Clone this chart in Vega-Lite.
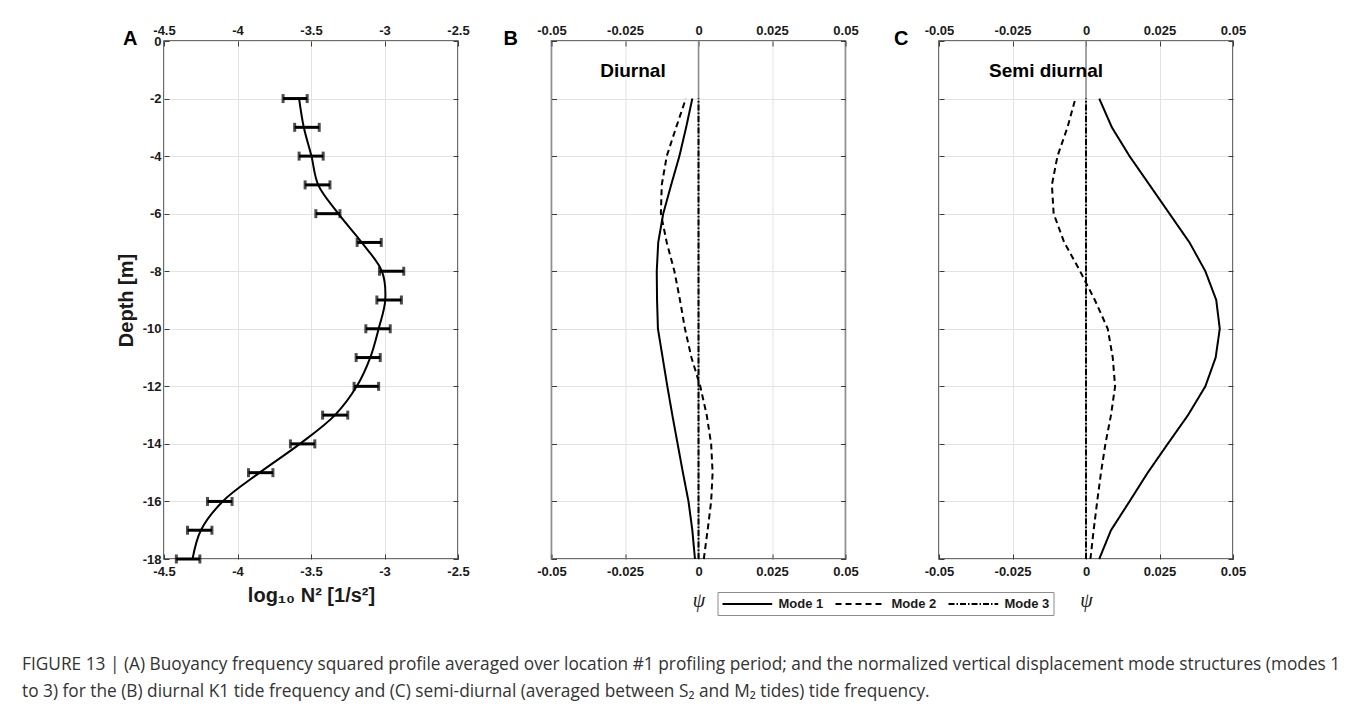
{
  "$schema": "https://vega.github.io/schema/vega-lite/v6.json",
  "background": "white",
  "padding": {"left": 22, "top": 23, "right": 5, "bottom": 5},
  "bounds": "flush",
  "spacing": 93.5,
  "title": {
    "text": [
      "FIGURE 13 | (A) Buoyancy frequency squared profile averaged over location #1 profiling period; and the normalized vertical displacement mode structures (modes 1",
      "to 3) for the (B) diurnal K1 tide frequency and (C) semi-diurnal (averaged between S₂ and M₂ tides) tide frequency."
    ],
    "orient": "bottom",
    "anchor": "start",
    "frame": "group",
    "dx": -142,
    "offset": 40,
    "font": "Open Sans",
    "fontSize": 17.3,
    "fontWeight": "normal",
    "color": "#333333",
    "lineHeight": 27
  },
  "datasets": {
    "n2": [
      {"depth": -2, "prof": -3.581, "lo": -3.690, "hi": -3.526},
      {"depth": -3, "prof": -3.549, "lo": -3.611, "hi": -3.444},
      {"depth": -4, "prof": -3.497, "lo": -3.581, "hi": -3.417},
      {"depth": -5, "prof": -3.451, "lo": -3.540, "hi": -3.371},
      {"depth": -6, "prof": -3.314, "lo": -3.467, "hi": -3.303},
      {"depth": -7, "prof": -3.155, "lo": -3.186, "hi": -3.022},
      {"depth": -8, "prof": -3.018, "lo": -3.034, "hi": -2.869},
      {"depth": -9, "prof": -2.995, "lo": -3.052, "hi": -2.885},
      {"depth": -10, "prof": -3.040, "lo": -3.127, "hi": -2.961},
      {"depth": -11, "prof": -3.097, "lo": -3.193, "hi": -3.029},
      {"depth": -12, "prof": -3.189, "lo": -3.207, "hi": -3.040},
      {"depth": -13, "prof": -3.337, "lo": -3.421, "hi": -3.250},
      {"depth": -14, "prof": -3.576, "lo": -3.640, "hi": -3.474},
      {"depth": -15, "prof": -3.850, "lo": -3.925, "hi": -3.759},
      {"depth": -16, "prof": -4.101, "lo": -4.204, "hi": -4.037},
      {"depth": -17, "prof": -4.249, "lo": -4.340, "hi": -4.174},
      {"depth": -18, "prof": -4.306, "lo": -4.416, "hi": -4.256}
    ],
    "diurnal": [
      {"mode": "Mode 1", "depth": -2, "psi": -0.0021},
      {"mode": "Mode 1", "depth": -3, "psi": -0.0042},
      {"mode": "Mode 1", "depth": -4, "psi": -0.0065},
      {"mode": "Mode 1", "depth": -5, "psi": -0.0093},
      {"mode": "Mode 1", "depth": -6, "psi": -0.0120},
      {"mode": "Mode 1", "depth": -7, "psi": -0.0137},
      {"mode": "Mode 1", "depth": -8, "psi": -0.0142},
      {"mode": "Mode 1", "depth": -9, "psi": -0.0141},
      {"mode": "Mode 1", "depth": -10, "psi": -0.0138},
      {"mode": "Mode 1", "depth": -11, "psi": -0.0122},
      {"mode": "Mode 1", "depth": -12, "psi": -0.0106},
      {"mode": "Mode 1", "depth": -13, "psi": -0.0089},
      {"mode": "Mode 1", "depth": -14, "psi": -0.0071},
      {"mode": "Mode 1", "depth": -15, "psi": -0.0053},
      {"mode": "Mode 1", "depth": -16, "psi": -0.0034},
      {"mode": "Mode 1", "depth": -17, "psi": -0.0021},
      {"mode": "Mode 1", "depth": -18, "psi": -0.0012},
      {"mode": "Mode 2", "depth": -2, "psi": -0.0043},
      {"mode": "Mode 2", "depth": -3, "psi": -0.0076},
      {"mode": "Mode 2", "depth": -4, "psi": -0.0108},
      {"mode": "Mode 2", "depth": -5, "psi": -0.0125},
      {"mode": "Mode 2", "depth": -6, "psi": -0.0128},
      {"mode": "Mode 2", "depth": -7, "psi": -0.0108},
      {"mode": "Mode 2", "depth": -8, "psi": -0.0082},
      {"mode": "Mode 2", "depth": -9, "psi": -0.0063},
      {"mode": "Mode 2", "depth": -10, "psi": -0.0046},
      {"mode": "Mode 2", "depth": -11, "psi": -0.0024},
      {"mode": "Mode 2", "depth": -12, "psi": 0.0006},
      {"mode": "Mode 2", "depth": -13, "psi": 0.0028},
      {"mode": "Mode 2", "depth": -14, "psi": 0.0043},
      {"mode": "Mode 2", "depth": -15, "psi": 0.0048},
      {"mode": "Mode 2", "depth": -16, "psi": 0.0043},
      {"mode": "Mode 2", "depth": -17, "psi": 0.0031},
      {"mode": "Mode 2", "depth": -18, "psi": 0.0018},
      {"mode": "Mode 3", "depth": -2, "psi": 0},
      {"mode": "Mode 3", "depth": -6, "psi": 0},
      {"mode": "Mode 3", "depth": -10, "psi": 0},
      {"mode": "Mode 3", "depth": -14, "psi": 0},
      {"mode": "Mode 3", "depth": -18, "psi": 0}
    ],
    "semi": [
      {"mode": "Mode 1", "depth": -2, "psi": 0.0045},
      {"mode": "Mode 1", "depth": -3, "psi": 0.0088},
      {"mode": "Mode 1", "depth": -4, "psi": 0.0148},
      {"mode": "Mode 1", "depth": -5, "psi": 0.0216},
      {"mode": "Mode 1", "depth": -6, "psi": 0.0284},
      {"mode": "Mode 1", "depth": -7, "psi": 0.0352},
      {"mode": "Mode 1", "depth": -8, "psi": 0.0406},
      {"mode": "Mode 1", "depth": -9, "psi": 0.0443},
      {"mode": "Mode 1", "depth": -10, "psi": 0.0455},
      {"mode": "Mode 1", "depth": -11, "psi": 0.0441},
      {"mode": "Mode 1", "depth": -12, "psi": 0.0406},
      {"mode": "Mode 1", "depth": -13, "psi": 0.0347},
      {"mode": "Mode 1", "depth": -14, "psi": 0.0278},
      {"mode": "Mode 1", "depth": -15, "psi": 0.0210},
      {"mode": "Mode 1", "depth": -16, "psi": 0.0148},
      {"mode": "Mode 1", "depth": -17, "psi": 0.0085},
      {"mode": "Mode 1", "depth": -18, "psi": 0.0045},
      {"mode": "Mode 2", "depth": -2, "psi": -0.0036},
      {"mode": "Mode 2", "depth": -3, "psi": -0.0063},
      {"mode": "Mode 2", "depth": -4, "psi": -0.0097},
      {"mode": "Mode 2", "depth": -5, "psi": -0.0116},
      {"mode": "Mode 2", "depth": -6, "psi": -0.0110},
      {"mode": "Mode 2", "depth": -7, "psi": -0.0074},
      {"mode": "Mode 2", "depth": -8, "psi": -0.0020},
      {"mode": "Mode 2", "depth": -9, "psi": 0.0030},
      {"mode": "Mode 2", "depth": -10, "psi": 0.0074},
      {"mode": "Mode 2", "depth": -11, "psi": 0.0091},
      {"mode": "Mode 2", "depth": -12, "psi": 0.0099},
      {"mode": "Mode 2", "depth": -13, "psi": 0.0085},
      {"mode": "Mode 2", "depth": -14, "psi": 0.0066},
      {"mode": "Mode 2", "depth": -15, "psi": 0.0051},
      {"mode": "Mode 2", "depth": -16, "psi": 0.0038},
      {"mode": "Mode 2", "depth": -17, "psi": 0.0026},
      {"mode": "Mode 2", "depth": -18, "psi": 0.0015},
      {"mode": "Mode 3", "depth": -2, "psi": 0},
      {"mode": "Mode 3", "depth": -6, "psi": 0},
      {"mode": "Mode 3", "depth": -10, "psi": 0},
      {"mode": "Mode 3", "depth": -14, "psi": 0},
      {"mode": "Mode 3", "depth": -18, "psi": 0}
    ],
    "labB": [{"label": "Diurnal", "x": -0.0223, "y": -1.03}],
    "labC": [{"label": "Semi diurnal", "x": -0.0136, "y": -1.03}],
    "zero": [{"v": 0}]
  },
  "resolve": {"scale": {"strokeDash": "independent"}, "legend": {"strokeDash": "independent"}},
  "hconcat": [
    {
      "width": 294,
      "height": 518,
      "title": {"text": "A", "anchor": "start", "frame": "group", "dx": -41, "dy": 25, "offset": 0},
      "data": {"name": "n2"},
      "layer": [
        {
          "mark": {"type": "line", "color": "black", "strokeWidth": 2, "interpolate": "catmull-rom"},
          "encoding": {
            "x": {"field": "prof", "type": "quantitative", "scale": {"domain": [-4.5, -2.5], "nice": false, "zero": false},
                  "axis": {"orient": "bottom", "values": [-4.5, -4, -3.5, -3, -2.5], "labelExpr": "'' + datum.value", "title": "log₁₀ N² [1/s²]", "grid": true, "labelPadding": 11, "titlePadding": 7}},
            "y": {"field": "depth", "type": "quantitative", "scale": {"domain": [-18, 0], "nice": false, "zero": false},
                  "axis": {"orient": "left", "values": [0, -2, -4, -6, -8, -10, -12, -14, -16, -18], "labelExpr": "'' + datum.value", "title": "Depth [m]", "grid": true, "titlePadding": 6}},
            "order": {"field": "depth", "type": "quantitative"}
          }
        },
        {
          "mark": {"type": "rule", "color": "black", "strokeWidth": 3},
          "encoding": {
            "x": {"field": "lo", "type": "quantitative", "scale": {"domain": [-4.5, -2.5], "nice": false, "zero": false},
                  "axis": {"orient": "top", "values": [-4.5, -4, -3.5, -3, -2.5], "labelExpr": "'' + datum.value", "title": null, "grid": false, "labelPadding": 9}},
            "x2": {"field": "hi"},
            "y": {"field": "depth", "type": "quantitative",
                  "axis": {"orient": "right", "values": [0, -2, -4, -6, -8, -10, -12, -14, -16, -18], "labels": false, "title": null, "grid": false}}
          }
        },
        {
          "mark": {"type": "tick", "orient": "vertical", "color": "black", "thickness": 3, "size": 9},
          "encoding": {
            "x": {"field": "lo", "type": "quantitative", "axis": null},
            "y": {"field": "depth", "type": "quantitative", "axis": null}
          }
        },
        {
          "mark": {"type": "tick", "orient": "vertical", "color": "black", "thickness": 3, "size": 9},
          "encoding": {
            "x": {"field": "hi", "type": "quantitative", "axis": null},
            "y": {"field": "depth", "type": "quantitative", "axis": null}
          }
        }
      ],
      "resolve": {"axis": {"x": "independent", "y": "independent"}}
    },
    {
      "width": 294,
      "height": 518,
      "title": {"text": "B", "anchor": "start", "frame": "group", "dx": -48, "dy": 25, "offset": 0},
      "layer": [
        {
          "data": {"name": "zero"},
          "mark": {"type": "rule", "color": "#8a8a8a", "strokeWidth": 1.5},
          "encoding": {
            "x": {"field": "v", "type": "quantitative", "scale": {"domain": [-0.05, 0.05], "nice": false, "zero": false},
                  "axis": {"orient": "top", "values": [-0.05, -0.025, 0, 0.025, 0.05], "labelExpr": "'' + datum.value", "title": null, "grid": false, "labelPadding": 9}}
          }
        },
        {
          "data": {"name": "diurnal"},
          "mark": {"type": "line", "color": "black", "strokeWidth": 2},
          "encoding": {
            "x": {"field": "psi", "type": "quantitative", "scale": {"domain": [-0.05, 0.05], "nice": false, "zero": false},
                  "axis": {"orient": "bottom", "values": [-0.05, -0.025, 0, 0.025, 0.05], "labelExpr": "'' + datum.value", "title": "ψ", "grid": true, "labelPadding": 11,
                           "titleFont": "Liberation Serif", "titleFontStyle": "italic", "titleFontWeight": "normal", "titleFontSize": 20, "titlePadding": 12}},
            "y": {"field": "depth", "type": "quantitative", "scale": {"domain": [-18, 0], "nice": false, "zero": false},
                  "axis": {"orient": "left", "values": [0, -2, -4, -6, -8, -10, -12, -14, -16, -18], "labels": false, "title": null, "grid": true}},
            "strokeDash": {"field": "mode", "type": "nominal",
                           "scale": {"domain": ["Mode 1", "Mode 2", "Mode 3"], "range": [[1, 0], [6, 4], [6, 2, 1.5, 2]]},
                           "legend": {"orient": "none", "legendX": 166, "legendY": 551, "direction": "horizontal", "title": null,
                                      "symbolType": "M-1,0H6.1", "symbolSize": 196, "symbolStrokeWidth": 2, "symbolStrokeColor": "black",
                                      "labelFont": "Liberation Sans", "labelFontSize": 13, "labelFontWeight": "bold", "labelColor": "#1a1a1a",
                                      "labelOffset": 41, "columnPadding": 8, "padding": 4, "strokeColor": "#8c8c8c", "fillColor": "white"}},
            "order": {"field": "depth", "type": "quantitative"}
          }
        },
        {
          "data": {"name": "labB"},
          "mark": {"type": "text", "font": "Liberation Sans", "fontSize": 19, "fontWeight": "bold", "color": "black"},
          "encoding": {
            "x": {"field": "x", "type": "quantitative", "axis": null},
            "y": {"field": "y", "type": "quantitative",
                  "axis": {"orient": "right", "values": [0, -2, -4, -6, -8, -10, -12, -14, -16, -18], "labels": false, "title": null, "grid": false}},
            "text": {"field": "label"}
          }
        }
      ],
      "resolve": {"axis": {"x": "independent", "y": "independent"}}
    },
    {
      "width": 294,
      "height": 518,
      "title": {"text": "C", "anchor": "start", "frame": "group", "dx": -45, "dy": 25, "offset": 0},
      "layer": [
        {
          "data": {"name": "zero"},
          "mark": {"type": "rule", "color": "#8a8a8a", "strokeWidth": 1.5},
          "encoding": {
            "x": {"field": "v", "type": "quantitative", "scale": {"domain": [-0.05, 0.05], "nice": false, "zero": false},
                  "axis": {"orient": "top", "values": [-0.05, -0.025, 0, 0.025, 0.05], "labelExpr": "'' + datum.value", "title": null, "grid": false, "labelPadding": 9}}
          }
        },
        {
          "data": {"name": "semi"},
          "mark": {"type": "line", "color": "black", "strokeWidth": 2},
          "encoding": {
            "x": {"field": "psi", "type": "quantitative", "scale": {"domain": [-0.05, 0.05], "nice": false, "zero": false},
                  "axis": {"orient": "bottom", "values": [-0.05, -0.025, 0, 0.025, 0.05], "labelExpr": "'' + datum.value", "title": "ψ", "grid": true, "labelPadding": 11,
                           "titleFont": "Liberation Serif", "titleFontStyle": "italic", "titleFontWeight": "normal", "titleFontSize": 20, "titlePadding": 12}},
            "y": {"field": "depth", "type": "quantitative", "scale": {"domain": [-18, 0], "nice": false, "zero": false},
                  "axis": {"orient": "left", "values": [0, -2, -4, -6, -8, -10, -12, -14, -16, -18], "labels": false, "title": null, "grid": true}},
            "strokeDash": {"field": "mode", "type": "nominal",
                           "scale": {"domain": ["Mode 1", "Mode 2", "Mode 3"], "range": [[1, 0], [6, 4], [6, 2, 1.5, 2]]},
                           "legend": null},
            "order": {"field": "depth", "type": "quantitative"}
          }
        },
        {
          "data": {"name": "labC"},
          "mark": {"type": "text", "font": "Liberation Sans", "fontSize": 19, "fontWeight": "bold", "color": "black"},
          "encoding": {
            "x": {"field": "x", "type": "quantitative", "axis": null},
            "y": {"field": "y", "type": "quantitative",
                  "axis": {"orient": "right", "values": [0, -2, -4, -6, -8, -10, -12, -14, -16, -18], "labels": false, "title": null, "grid": false}},
            "text": {"field": "label"}
          }
        }
      ],
      "resolve": {"axis": {"x": "independent", "y": "independent"}}
    }
  ],
  "config": {
    "font": "Liberation Sans",
    "view": {"stroke": "#3c3c3c", "strokeWidth": 1.5},
    "axis": {
      "labelFont": "Liberation Sans", "labelFontSize": 13, "labelFontWeight": "bold", "labelColor": "#1a1a1a",
      "labelFlush": false, "labelOverlap": false, "labelPadding": 8,
      "domain": false, "tickColor": "#3c3c3c", "tickSize": -5, "tickWidth": 1,
      "gridColor": "#e3e3e3", "gridWidth": 1,
      "titleFont": "Liberation Sans", "titleFontWeight": "bold", "titleFontSize": 20, "titleColor": "#1a1a1a"
    },
    "title": {"font": "Liberation Sans", "fontSize": 20, "fontWeight": "bold", "color": "black"}
  }
}
